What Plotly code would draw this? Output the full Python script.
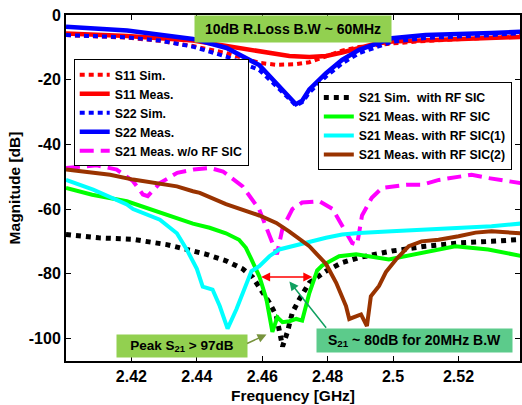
import plotly.graph_objects as go

# ---------------- data ----------------
s11_sim_f = [2.4000, 2.4187, 2.4287, 2.4388, 2.4491, 2.4591, 2.4643, 2.4703, 2.4744, 2.4795, 2.4844, 2.4896, 2.4996, 2.5099, 2.5200, 2.5301, 2.5390]
s11_sim_db = [-6.2, -7.0, -8.0, -9.6, -11.8, -14.8, -15.4, -15.2, -14.6, -12.8, -11.0, -9.9, -8.8, -8.0, -7.4, -7.0, -6.5]

s11_meas_f = [2.4000, 2.4187, 2.4388, 2.4491, 2.4591, 2.4683, 2.4744, 2.4795, 2.4844, 2.4896, 2.4946, 2.4996, 2.5099, 2.5200, 2.5301, 2.5390]
s11_meas_db = [-5.7, -6.5, -7.9, -9.5, -11.3, -12.7, -13.0, -12.7, -11.6, -10.3, -8.9, -8.2, -7.8, -7.4, -7.1, -6.8]

s22_sim_f = [2.4000, 2.4187, 2.4287, 2.4388, 2.4491, 2.4591, 2.4643, 2.4683, 2.4703, 2.4722, 2.4744, 2.4795, 2.4844, 2.4896, 2.4996, 2.5099, 2.5200, 2.5301, 2.5390]
s22_sim_db = [-6.2, -6.9, -7.9, -9.8, -12.9, -17.0, -22.0, -26.0, -28.0, -27.0, -24.0, -19.0, -15.0, -11.8, -8.3, -7.1, -6.7, -6.2, -5.6]

s22_meas_f = [2.4000, 2.4187, 2.4388, 2.4491, 2.4591, 2.4643, 2.4683, 2.4703, 2.4722, 2.4744, 2.4795, 2.4844, 2.4896, 2.4996, 2.5099, 2.5200, 2.5301, 2.5390]
s22_meas_db = [-3.6, -4.8, -7.4, -10.2, -15.5, -21.0, -25.7, -27.6, -26.5, -23.0, -18.0, -13.9, -10.8, -7.2, -6.2, -6.0, -5.6, -5.2]

s21_wo_f = [2.4000, 2.4094, 2.4155, 2.4205, 2.4235, 2.4250, 2.4287, 2.4340, 2.4390, 2.4440, 2.4480, 2.4540, 2.4590, 2.4620, 2.4645, 2.4662, 2.4692, 2.4722, 2.4775, 2.4815, 2.4845, 2.4875, 2.4890, 2.4905, 2.4935, 2.4966, 2.5040, 2.5090, 2.5140, 2.5240, 2.5290, 2.5390]
s21_wo_db = [-47.3, -46.5, -47.8, -51.4, -55.5, -56.0, -52.0, -48.8, -47.8, -47.3, -48.4, -53.0, -60.0, -68.0, -74.0, -66.0, -60.0, -58.0, -57.6, -60.0, -65.3, -70.5, -71.0, -62.0, -56.5, -53.5, -52.5, -52.5, -51.0, -49.4, -50.4, -52.0]

s21_sim_f = [2.4000, 2.4100, 2.4205, 2.4308, 2.4369, 2.4429, 2.4489, 2.4540, 2.4570, 2.4591, 2.4622, 2.4643, 2.4662, 2.4677, 2.4692, 2.4713, 2.4744, 2.4795, 2.4844, 2.4896, 2.4996, 2.5099, 2.5200, 2.5301, 2.5390]
s21_sim_db = [-67.9, -68.9, -69.4, -71.0, -72.5, -74.0, -76.0, -78.5, -81.0, -84.0, -89.0, -93.0, -102.5, -98.0, -92.0, -88.0, -82.8, -79.2, -76.6, -75.0, -73.0, -71.5, -70.5, -70.0, -69.4]

s21_meas_f = [2.4000, 2.4080, 2.4186, 2.4287, 2.4388, 2.4439, 2.4489, 2.4529, 2.4550, 2.4567, 2.4591, 2.4613, 2.4631, 2.4646, 2.4662, 2.4683, 2.4704, 2.4722, 2.4744, 2.4768, 2.4783, 2.4835, 2.4887, 2.4987, 2.5087, 2.5190, 2.5291, 2.5390]
s21_meas_db = [-53.5, -55.6, -57.6, -61.0, -64.5, -65.8, -67.5, -69.5, -72.0, -75.6, -80.8, -88.0, -98.0, -93.5, -95.0, -94.7, -94.0, -94.5, -86.0, -79.0, -77.5, -74.6, -74.0, -75.6, -73.5, -71.5, -72.5, -74.5]

s21_sic1_f = [2.4000, 2.4083, 2.4186, 2.4205, 2.4287, 2.4339, 2.4369, 2.4400, 2.4418, 2.4448, 2.4470, 2.4494, 2.4521, 2.4540, 2.4567, 2.4591, 2.4622, 2.4652, 2.4692, 2.4744, 2.4795, 2.4844, 2.4896, 2.4996, 2.5099, 2.5200, 2.5301, 2.5390]
s21_sic1_db = [-51.0, -54.0, -58.6, -60.0, -63.3, -67.5, -72.5, -78.5, -84.0, -84.9, -90.0, -97.0, -91.0, -86.0, -79.2, -77.7, -74.6, -72.5, -71.5, -70.0, -68.9, -67.9, -67.4, -66.9, -66.4, -66.0, -65.3, -64.5]

s21_sic2_f = [2.4000, 2.4135, 2.4205, 2.4308, 2.4339, 2.4388, 2.4409, 2.4489, 2.4591, 2.4643, 2.4683, 2.4744, 2.4783, 2.4795, 2.4826, 2.4856, 2.4866, 2.4887, 2.4902, 2.4920, 2.4932, 2.4957, 2.4978, 2.5009, 2.5048, 2.5087, 2.5139, 2.5200, 2.5252, 2.5301, 2.5390]
s21_sic2_db = [-47.8, -49.4, -50.9, -52.5, -53.0, -54.5, -55.0, -58.5, -62.0, -64.3, -67.0, -71.5, -75.6, -77.0, -82.8, -90.0, -94.0, -93.0, -92.6, -96.2, -87.0, -83.8, -79.5, -75.6, -71.5, -70.0, -69.5, -68.4, -67.3, -66.9, -67.5]

x_ticks = [2.42, 2.44, 2.46, 2.48, 2.50, 2.52]
x_tick_text = ["2.42", "2.44", "2.46", "2.48", "2.5", "2.52"]
y_ticks = [0, -20, -40, -60, -80, -100]
y_tick_text = ["0", "-20", "-40", "-60", "-80", "-100"]

FONT = "Liberation Sans, Arial, sans-serif"

fig = go.Figure()

def add(f, v, name, color, width, dash, legend):
    fig.add_trace(go.Scatter(x=f, y=v, mode="lines", name=name,
                             line=dict(color=color, width=width, dash=dash),
                             legend=legend))

add(s11_sim_f, s11_sim_db, "S11 Sim.", "#ff0000", 4, "5px,4px", "legend")
add(s11_meas_f, s11_meas_db, "S11 Meas.", "#ff0000", 4.5, "solid", "legend")
add(s22_sim_f, s22_sim_db, "S22 Sim.", "#0000ff", 4, "5px,4px", "legend")
add(s22_meas_f, s22_meas_db, "S22 Meas.", "#0000ff", 4.5, "solid", "legend")
add(s21_wo_f, s21_wo_db, "S21 Meas. w/o RF SIC", "#ff00ff", 4, "14px,7px", "legend")
add(s21_sim_f, s21_sim_db, "S21 Sim.  with RF SIC", "#000000", 5, "5px,5px", "legend2")
add(s21_meas_f, s21_meas_db, "S21 Meas. with RF SIC", "#00ff00", 4, "solid", "legend2")
add(s21_sic1_f, s21_sic1_db, "S21 Meas. with RF SIC(1)", "#00ffff", 4, "solid", "legend2")
add(s21_sic2_f, s21_sic2_db, "S21 Meas. with RF SIC(2)", "#993300", 4, "solid", "legend2")

legend_style = dict(bgcolor="white", bordercolor="black", borderwidth=1,
                    font=dict(family=FONT, size=12.3, color="black", weight="bold"),
                    itemwidth=30, tracegroupgap=0, yanchor="top")

fig.update_layout(
    width=522, height=405,
    margin=dict(l=66, r=0, t=15, b=44),
    plot_bgcolor="white", paper_bgcolor="white",
    font=dict(family=FONT, color="black", weight="bold"),
    legend=dict(x=0.017, y=0.872, xanchor="left", **legend_style),
    legend2=dict(x=0.982, y=0.806, xanchor="right", **legend_style),
    xaxis=dict(range=[2.40, 2.5388], tickvals=x_ticks, ticktext=x_tick_text,
               ticks="inside", ticklen=5, tickcolor="black", mirror="ticks",
               showline=True, linecolor="black", linewidth=2, showgrid=False, zeroline=False,
               tickfont=dict(family=FONT, size=16, weight="bold"),
               title=dict(text="Frequency [GHz]", font=dict(family=FONT, size=15.5, weight="bold"), standoff=6)),
    yaxis=dict(range=[-107, 0], tickvals=y_ticks, ticktext=y_tick_text,
               ticks="inside", ticklen=5, tickcolor="black", mirror="ticks",
               showline=True, linecolor="black", linewidth=2, showgrid=False, zeroline=False,
               tickfont=dict(family=FONT, size=16, weight="bold"),
               title=dict(text="Magnitude [dB]", font=dict(family=FONT, size=15.5, weight="bold"), standoff=4)),
)

ann_font = dict(family=FONT, size=14, color="black", weight="bold")
fig.add_annotation(x=2.4695, y=-4.3, xref="x", yref="y", text="10dB R.Loss B.W ~ 60MHz",
                   showarrow=False, bgcolor="#92d050", font=ann_font, width=192, height=22, borderpad=2)
fig.add_annotation(x=2.4354, y=-102.3, xref="x", yref="y", text="Peak S<sub>21</sub> > 97dB",
                   showarrow=False, bgcolor="#92d050", font=dict(ann_font, size=13.5), width=126, height=18, borderpad=2)
fig.add_annotation(x=2.5065, y=-100.8, xref="x", yref="y", text="S<sub>21</sub> ~ 80dB for 20MHz B.W",
                   showarrow=False, bgcolor="#5ccb8b", font=ann_font, width=191, height=19, borderpad=2)

# arrows
fig.add_annotation(x=2.4753, y=-81, ax=2.4592, ay=-81, xref="x", yref="y", axref="x", ayref="y",
                   text="", showarrow=True, arrowhead=2, startarrowhead=2, arrowside="end+start",
                   arrowsize=1.2, startarrowsize=1.2, arrowwidth=1.5, arrowcolor="#ff0000")
fig.add_annotation(x=2.4613, y=-98.8, ax=2.4549, ay=-101.8, xref="x", yref="y", axref="x", ayref="y",
                   text="", showarrow=True, arrowhead=2, arrowsize=1.2, arrowwidth=1.5, arrowcolor="#77933c")
fig.add_annotation(x=2.4683, y=-82.4, ax=2.4799, ay=-97.2, xref="x", yref="y", axref="x", ayref="y",
                   text="", showarrow=True, arrowhead=2, arrowsize=1.2, arrowwidth=1.5, arrowcolor="#10a060")

fig.write_html("out.html", config={"displayModeBar": False},
               post_script="document.body.style.margin='0px'; document.body.style.overflow='hidden';")
